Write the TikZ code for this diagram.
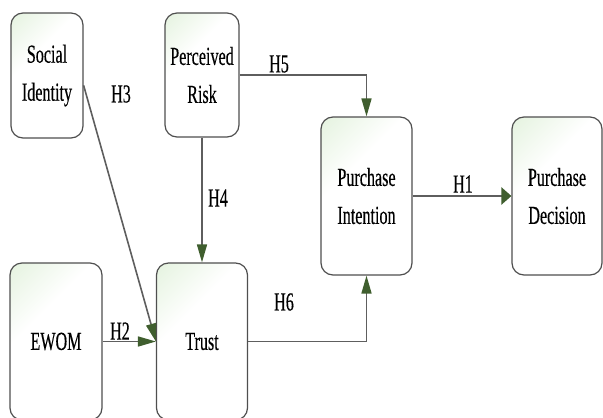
\documentclass[tikz,border=0pt]{standalone}
\usepackage{fontspec}
\newfontfamily\boxfont[FakeStretch=0.62, FakeBold=0.3]{Liberation Serif}
\usetikzlibrary{arrows.meta}

\definecolor{tipgreen}{HTML}{3F5E2E}
\definecolor{linegray}{HTML}{5E5E5E}
\definecolor{boxedge}{HTML}{4F4F4F}
\definecolor{glowgreen}{HTML}{D4EBCB}
\pgfdeclareverticalshading{cornerglow}{100bp}{color(0bp)=(white); color(62bp)=(white); color(100bp)=(glowgreen)}

\begin{document}
\begin{tikzpicture}[
    x=1pt, y=-1pt,
    construct/.style={rectangle, draw=boxedge, line width=1.2pt, rounded corners=12pt,
      shading=cornerglow, shading angle=45,
      align=center, inner sep=0pt, font=\boxfont\fontsize{26}{38}\selectfont},
    hyp/.style={inner sep=0pt, font=\boxfont\fontsize{26}{28}\selectfont},
    arrow/.style={-{Triangle[length=18pt, width=10pt, color=tipgreen]}, draw=linegray, line width=1.6pt},
    bigarrow/.style={-{Triangle[length=10pt, width=17pt, color=tipgreen]}, draw=linegray, line width=2.6pt}
  ]
    \useasboundingbox (0,0) rectangle (603,418);
    \clip (0,0) rectangle (603,418);

    % Antecedents
    \node[construct, minimum width=72pt, minimum height=125pt] (social) at (47,75.5) {Social\\Identity};
    \node[construct, minimum width=74pt, minimum height=124pt] (risk) at (202,75) {Perceived\\Risk};
    \node[construct, minimum width=92pt, minimum height=157pt] (ewom) at (56,341.5) {EWOM};
    \node[construct, minimum width=91pt, minimum height=157pt] (trust) at (202,341.5) {Trust};

    % Outcomes
    \node[construct, minimum width=91pt, minimum height=158pt] (intent) at (366.5,196) {Purchase\\Intention};
    \node[construct, minimum width=90pt, minimum height=158pt] (decision) at (557,196) {Purchase\\Decision};

    % Paths
    \draw[arrow] (social.-15) -- (trust.west);
    \draw[arrow] (ewom) -- (trust);
    \draw[arrow] (risk.south) -- (trust.north);
    \draw[arrow] (risk.east) -| (intent.north);
    \draw[arrow] (trust.east) -| (intent.south);
    \draw[bigarrow] (intent) -- (decision);

    % Hypotheses
    \node[hyp] (h1) at (463,184) {H1};
    \node[hyp] (h2) at (120,331) {H2};
    \node[hyp] (h3) at (121,94) {H3};
    \node[hyp] (h4) at (218,198) {H4};
    \node[hyp] (h5) at (279,64) {H5};
    \node[hyp] (h6) at (284,302) {H6};
\end{tikzpicture}
\end{document}
